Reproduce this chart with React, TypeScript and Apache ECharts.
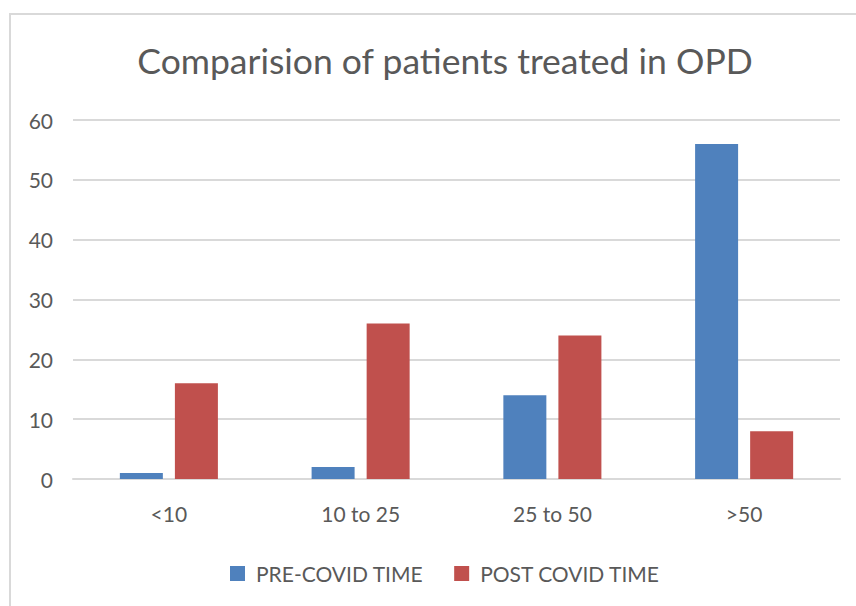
import React, { useEffect, useRef } from "react";
import * as echarts from "echarts";

const categories = ["<10", "10 to 25", "25 to 50", ">50"];
const preCovid = [1, 2, 14, 56];
const postCovid = [16, 26, 24, 8];
const seriesNames = ["PRE-COVID TIME", "POST COVID TIME"];
const titleText = "Comparision of patients treated in OPD";

const FONT = "Lato, 'Open Sans', sans-serif";
const TEXT = "#595959";

export default function App() {
  const ref = useRef<HTMLDivElement>(null);
  useEffect(() => {
    if (!ref.current) return;
    const chart = echarts.init(ref.current, null, { renderer: "svg" });
    chart.setOption({
      animation: false,
      backgroundColor: "#ffffff",
      graphic: [
        {
          type: "rect",
          shape: { x: 10, y: 14, width: 900, height: 700 },
          style: { fill: "none", stroke: "#d9d9d9", lineWidth: 2 },
          silent: true,
        },
      ],
      title: {
        text: titleText,
        left: 440,
        textAlign: "center",
        top: 37,
        textStyle: { fontFamily: FONT, fontSize: 35.5, fontWeight: "normal", color: TEXT },
      },
      legend: {
        data: seriesNames,
        left: 225,
        top: 558,
        itemWidth: 15,
        itemHeight: 15,
        itemGap: 31,
        icon: "rect",
        textStyle: { fontFamily: FONT, fontSize: 21, color: TEXT, padding: [0, 0, 0, 6] },
      },
      grid: { left: 73, right: 16, top: 120, bottom: 127, containLabel: false },
      xAxis: {
        type: "category",
        data: categories,
        axisLine: { show: true, lineStyle: { color: "#d9d9d9", width: 2 } },
        axisTick: { show: false },
        axisLabel: { fontFamily: FONT, fontSize: 21, color: TEXT, margin: 24 },
      },
      yAxis: {
        type: "value",
        min: 0,
        max: 60,
        interval: 10,
        axisLine: { show: false },
        axisTick: { show: false },
        splitLine: { lineStyle: { color: "#d9d9d9", width: 2 } },
        axisLabel: { fontFamily: FONT, fontSize: 21, color: TEXT, margin: 20 },
      },
      series: [
        {
          name: seriesNames[0],
          type: "bar",
          data: preCovid,
          barWidth: 43,
          barGap: "28%",
          itemStyle: { color: "#4F81BD" },
        },
        {
          name: seriesNames[1],
          type: "bar",
          data: postCovid,
          barWidth: 43,
          itemStyle: { color: "#C0504D" },
        },
      ],
    });
    return () => chart.dispose();
  }, []);
  return (
    <div
      ref={ref}
      style={{ position: "fixed", left: 0, top: 0, width: 856, height: 606 }}
    />
  );
}
